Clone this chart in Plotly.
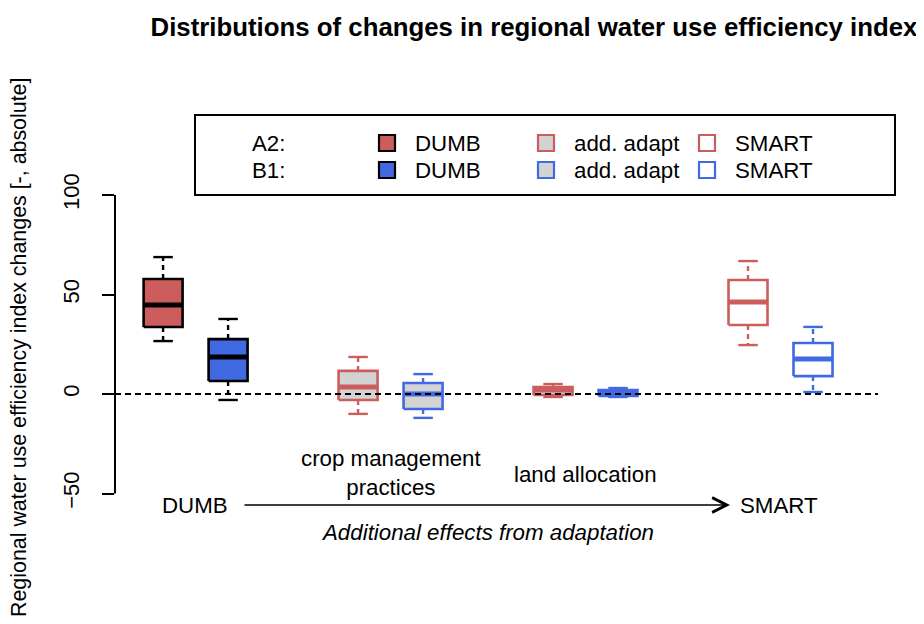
import plotly.graph_objects as go

# box statistics (lower whisker, q1, median, q3, upper whisker)
groups = ["A2 DUMB", "B1 DUMB", "A2 add. adapt", "B1 add. adapt",
          "A2 land", "B1 land", "A2 SMART", "B1 SMART"]
positions = [1, 2, 4, 5, 7, 8, 10, 11]
lower = [26.6, -3.0, -10.0, -12.0, -1.5, -1.5, 24.6, 1.0]
q1 = [33.7, 6.5, -3.0, -7.5, -0.5, -1.0, 34.7, 9.0]
median = [44.7, 18.6, 3.5, 0.0, 2.0, 0.5, 46.2, 17.6]
q3 = [57.8, 27.6, 11.6, 5.5, 3.5, 2.0, 57.3, 25.6]
upper = [68.8, 37.7, 18.6, 10.0, 5.0, 3.0, 66.8, 33.7]

RED = "#CD5C5C"
BLUE = "#4169E1"
GREY = "#D3D3D3"
fills = [RED, BLUE, GREY, GREY, GREY, GREY, "white", "white"]
edges = ["black", "black", RED, BLUE, RED, BLUE, RED, BLUE]

yticks = [-50, 0, 50, 100]
FONT = "Liberation Sans"

# the page puts the figure 8px in from the corner, so margins are shifted by that
OFF = 8
# plot area in page pixels (R-style plot region)
L, R, T, B = 115, 878, 100, 510
def px(x):
    return (x - L) / (R - L)
def py(y):
    return (B - y) / (B - T)

HW, CW = 0.3, 0.15  # box half width, cap half width

fig = go.Figure()
for i, p in enumerate(positions):
    ec = edges[i]
    fig.add_trace(go.Scatter(x=[p - HW, p + HW, p + HW, p - HW, p - HW],
                             y=[q1[i], q1[i], q3[i], q3[i], q1[i]],
                             mode="lines", fill="toself", fillcolor=fills[i],
                             line=dict(color=ec, width=2.6), hoverinfo="skip"))
    fig.add_trace(go.Scatter(x=[p - HW, p + HW], y=[median[i], median[i]], mode="lines",
                             line=dict(color=ec, width=5), hoverinfo="skip"))
    for a, b in [(q3[i], upper[i]), (q1[i], lower[i])]:
        fig.add_trace(go.Scatter(x=[p, p], y=[a, b], mode="lines",
                                 line=dict(color=ec, width=2.4, dash="5px,4px"), hoverinfo="skip"))
        fig.add_trace(go.Scatter(x=[p - CW, p + CW], y=[b, b], mode="lines",
                                 line=dict(color=ec, width=2.4), hoverinfo="skip"))

# zero reference line
fig.add_trace(go.Scatter(x=[0.26, 12.0], y=[0, 0], mode="lines",
                         line=dict(color="black", width=2, dash="6px,4px"), hoverinfo="skip"))

shapes = [
    # y axis line only over tick range
    dict(type="line", xref="paper", yref="y", x0=0, x1=0, y0=-50, y1=100,
         line=dict(color="black", width=2)),
    # legend frame
    dict(type="rect", xref="paper", yref="paper", x0=px(195), x1=px(895), y0=py(195), y1=py(115),
         line=dict(color="black", width=2), fillcolor="white", layer="below"),
]


def label(text, x, y, xanchor="center", **kw):
    return dict(text=text, xref="paper", yref="paper", x=px(x), y=py(y),
                xanchor=xanchor, yanchor="middle", showarrow=False, **kw)


annotations = []

# legend rows
rows = [("A2:", 143, RED), ("B1:", 170, BLUE)]
sw = 8
for lab, yy, col in rows:
    annotations.append(label(lab, 287, yy, xanchor="right"))
    for cx, fc, lc, txt in [(387, col, "black", "DUMB"), (546, GREY, col, "add. adapt"),
                            (707, "white", col, "SMART")]:
        shapes.append(dict(type="rect", xref="paper", yref="paper",
                           x0=px(cx - sw), x1=px(cx + sw), y0=py(yy + sw), y1=py(yy - sw),
                           fillcolor=fc, line=dict(color=lc, width=2.2)))
        annotations.append(label(txt, cx + 26, yy, xanchor="left"))

# bottom labels
annotations += [
    label("DUMB", 195, 505),
    label("SMART", 779, 505),
    label("crop management<br>practices", 391, 473),
    label("land allocation", 585, 474),
    label("<i>Additional effects from adaptation</i>", 487, 532),
    dict(text="", xref="paper", yref="paper", x=px(730), y=py(505), ax=-487, ay=0,
         showarrow=True, arrowhead=5, arrowsize=1.8, arrowwidth=1.6, arrowcolor="black"),
    label("Regional water use efficiency index changes [-, absolute]", 19, 348,
          textangle=-90, font=dict(size=21.4)),
]

fig.update_layout(
    width=924, height=624,
    margin=dict(l=L - OFF, r=924 - R + OFF, t=T - OFF, b=624 - B + OFF),
    plot_bgcolor="white", paper_bgcolor="white",
    showlegend=False,
    font=dict(family=FONT, size=22.3, color="black"),
    title=dict(text="<b>Distributions of changes in regional water use efficiency index</b>",
               x=(534 - OFF) / 924, xanchor="center", y=1 - (27 - OFF) / 624, yanchor="middle",
               font=dict(size=25.8)),
    xaxis=dict(range=[0.26, 12.0], visible=False),
    yaxis=dict(range=[(394 - B) / 1.99, (394 - T) / 1.99], tickvals=yticks, ticks="outside",
               ticklen=12, tickwidth=2, tickcolor="black", tickangle=-90, showgrid=False,
               zeroline=False, showline=False, ticklabelstandoff=14,
               tickfont=dict(size=22)),
    shapes=shapes, annotations=annotations,
)

fig.write_html("out.html")
